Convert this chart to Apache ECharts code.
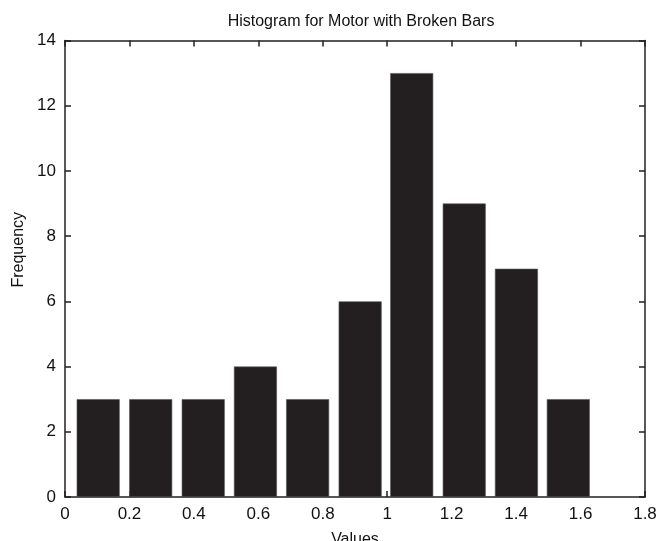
<!DOCTYPE html>
<html>
<head>
<meta charset="utf-8">
<script src="https://cdn.jsdelivr.net/npm/echarts@6/dist/echarts.min.js"></script>
<style>
html,body{margin:0;padding:0;background:#fff;}
#c{width:671px;height:541px;}
</style>
</head>
<body>
<div id="c"></div>
<script>
// Bin centers (Values) and counts (Frequency)
const binCenters = [0.103, 0.266, 0.429, 0.591, 0.753, 0.916, 1.076, 1.239, 1.401, 1.562];
const counts = [3, 3, 3, 4, 3, 6, 13, 9, 7, 3];
const xTicks = [0, 0.2, 0.4, 0.6, 0.8, 1, 1.2, 1.4, 1.6, 1.8];
const yTicks = [0, 2, 4, 6, 8, 10, 12, 14];

const font = '"Liberation Sans", Arial, sans-serif';
const ink = '#231f20';
const chart = echarts.init(document.getElementById('c'), null, {renderer: 'canvas'});
const axisCommon = {
  axisLine: {show: true, onZero: false, lineStyle: {color: ink, width: 1.5}},
  axisTick: {show: true, inside: true, length: 6, lineStyle: {color: ink, width: 1.5}},
  splitLine: {show: false}
};
chart.setOption({
  animation: false,
  backgroundColor: '#fff',
  title: {
    text: 'Histogram for Motor with Broken Bars',
    left: 356, top: 9, textAlign: 'center',
    textStyle: {fontFamily: font, fontSize: 16, fontWeight: 'normal', color: '#111'}
  },
  grid: {left: 65, right: 26, top: 40.5, bottom: 44, containLabel: false, outerBoundsMode: 'none'},
  xAxis: [
    Object.assign({
      type: 'value', min: xTicks[0], max: xTicks[xTicks.length - 1], interval: 0.2,
      position: 'bottom',
      name: 'Values', nameLocation: 'middle', nameGap: 35,
      nameTextStyle: {fontFamily: font, fontSize: 16, color: '#111'},
      axisLabel: {fontFamily: font, fontSize: 17, color: '#111', margin: 9}
    }, axisCommon),
    Object.assign({
      type: 'value', min: xTicks[0], max: xTicks[xTicks.length - 1], interval: 0.2,
      position: 'top', axisLabel: {show: false}
    }, axisCommon)
  ],
  yAxis: [
    Object.assign({
      type: 'value', min: yTicks[0], max: yTicks[yTicks.length - 1], interval: 2,
      position: 'left',
      name: 'Frequency', nameLocation: 'middle', nameGap: 38,
      nameTextStyle: {fontFamily: font, fontSize: 16, color: '#111', padding: [0, 0, 0, 38]},
      axisLabel: {fontFamily: font, fontSize: 17, color: '#111', margin: 9}
    }, axisCommon),
    Object.assign({
      type: 'value', min: yTicks[0], max: yTicks[yTicks.length - 1], interval: 2,
      position: 'right', axisLabel: {show: false}
    }, axisCommon)
  ],
  series: [{
    type: 'bar',
    xAxisIndex: 0, yAxisIndex: 0,
    barWidth: 43,
    data: binCenters.map((x, i) => [x, counts[i]]),
    itemStyle: {color: ink, borderColor: '#555', borderWidth: 0.6}
  }]
});
</script>
</body>
</html>
